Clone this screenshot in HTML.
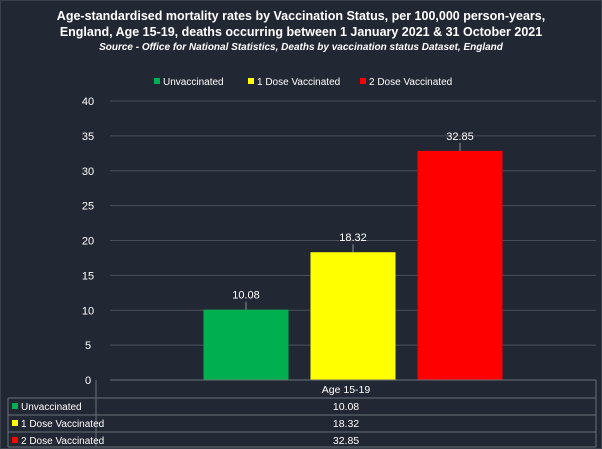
<!DOCTYPE html>
<html><head><meta charset="utf-8"><style>
body{margin:0;background:#222833;}
svg{display:block;font-family:"Liberation Sans",sans-serif;}
</style></head><body>
<svg id="c" width="602" height="449">
<rect x="0" y="0" width="602" height="449" fill="#222833"/>
<rect x="0.5" y="0.5" width="601" height="448" fill="none" stroke="#3a404c"/>
<text x="301" y="20" text-anchor="middle" fill="#fff" font-size="12.5" font-weight="bold">Age-standardised mortality rates by Vaccination Status, per 100,000 person-years,</text>
<text x="301" y="36" text-anchor="middle" fill="#fff" font-size="12.5" font-weight="bold">England, Age 15-19, deaths occurring between 1 January 2021 &amp; 31 October 2021</text>
<text x="301" y="50" text-anchor="middle" fill="#fff" font-size="10" font-weight="bold" font-style="italic">Source - Office for National Statistics, Deaths by vaccination status Dataset, England</text>
<g id="legend"></g>
<g id="grid"></g>
<g id="bars"></g>
<g id="table"></g>
</svg>
<script>
const categories=["Age 15-19"];
const seriesNames=["Unvaccinated","1 Dose Vaccinated","2 Dose Vaccinated"];
const seriesValues=[10.08,18.32,32.85];
const seriesColors=["#00b050","#ffff00","#ff0000"];
const yTicks=[0,5,10,15,20,25,30,35,40];
const NS="http://www.w3.org/2000/svg";
function mk(p,t,a,txt){const e=document.createElementNS(NS,t);for(const k in a)e.setAttribute(k,a[k]);if(txt!=null)e.textContent=txt;p.appendChild(e);return e;}
const x0=110,x1=596,yTop=101,yBot=380,yMax=40;
const y=v=>yBot-(v/yMax)*(yBot-yTop);
const grid=document.getElementById('grid');
yTicks.forEach(t=>{
 const l=mk(grid,'line',{x1:x0,x2:x1,y1:y(t),y2:y(t),stroke:t===0?'#6b7078':'#4a505b','stroke-width':1});
 
 
 const tx=mk(grid,'text',{x:88,y:y(t)+4,'text-anchor':'middle',fill:'#fff','font-size':11},String(t));
 
 
});
const bars=document.getElementById('bars');
const catW=(x1-x0)/categories.length;
const barW=85,gap=22;
seriesValues.forEach((v,i)=>{
 const cx=x0+catW/2+(i-1)*(barW+gap);
 const r=mk(bars,'rect',{x:cx-barW/2,y:y(v),width:barW,height:yBot-y(v),fill:seriesColors[i]});
 
 
 mk(bars,'line',{x1:cx,x2:cx,y1:y(v)-8,y2:y(v),stroke:'#8a8f96'});
 const t=mk(bars,'text',{x:cx,y:y(v)-11,'text-anchor':'middle',fill:'#fff','font-size':11},v.toFixed(2));
 
 
});
const leg=document.getElementById('legend');
const lx=[154,248,360];
seriesNames.forEach((n,i)=>{
 const g=mk(leg,'g',{});
 
 
 mk(g,'rect',{x:lx[i],y:78,width:6,height:6,fill:seriesColors[i]});
 mk(g,'text',{x:lx[i]+9,y:85,fill:'#fff','font-size':10},n);
});
const tb=document.getElementById('table');
const rows=[380,398,415,432,447];
const st='#6b7078';
mk(tb,'line',{x1:x0,x2:x1,y1:380,y2:380,stroke:st});
mk(tb,'line',{x1:8,x2:x1,y1:398,y2:398,stroke:st});
mk(tb,'line',{x1:8,x2:x1,y1:415,y2:415,stroke:st});
mk(tb,'line',{x1:8,x2:x1,y1:432,y2:432,stroke:st});
mk(tb,'line',{x1:8,x2:x1,y1:447,y2:447,stroke:st});
mk(tb,'line',{x1:8,x2:8,y1:398,y2:447,stroke:st});
mk(tb,'line',{x1:96,x2:96,y1:380,y2:447,stroke:st});
mk(tb,'line',{x1:x1,x2:x1,y1:380,y2:447,stroke:st});
const h=mk(tb,'text',{x:(96+x1)/2,y:393,'text-anchor':'middle',fill:'#fff','font-size':10.5},categories[0]);


seriesNames.forEach((n,i)=>{
 const yy=rows[i+1]+12;
 mk(tb,'rect',{x:12,y:yy-7,width:6,height:6,fill:seriesColors[i]});
 const a=mk(tb,'text',{x:21,y:yy,fill:'#fff','font-size':10},n);
 
 
 const b=mk(tb,'text',{x:(96+x1)/2,y:yy,'text-anchor':'middle',fill:'#fff','font-size':10.5},seriesValues[i].toFixed(2));
 
 
});
</script>
</body></html>
